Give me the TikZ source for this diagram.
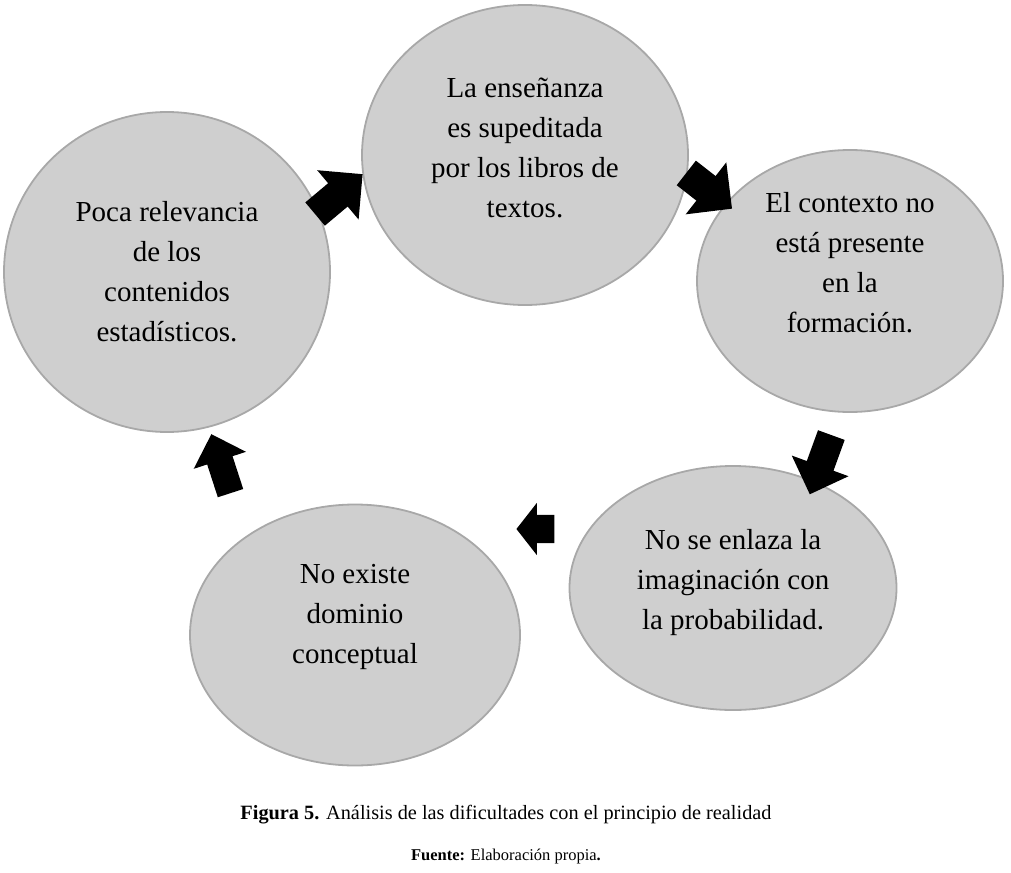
\documentclass[tikz,border=0pt]{standalone}
\usepackage{fontspec}
\setmainfont{Liberation Serif}
\usetikzlibrary{shapes.geometric,shapes.arrows}
\definecolor{cellfill}{RGB}{207,207,207}
\definecolor{celldraw}{RGB}{168,168,168}
\begin{document}
\begin{tikzpicture}[x=1pt,y=-1pt,
		cell/.style={ellipse, fill=cellfill, draw=celldraw, line width=1.8pt, inner sep=0pt},
		txt/.style={align=center, font=\fontsize{29}{40}\selectfont},
		blk/.style={single arrow, fill=black, inner xsep=0pt, inner ysep=15pt, single arrow head indent=0pt}]
			\useasboundingbox (0,0) rectangle (1011,872);
			% ellipses
			\node[cell, minimum width=326pt, minimum height=300pt] (top) at (525,155) {};
			\node[cell, minimum width=306pt, minimum height=262pt] (rgt) at (850,281) {};
			\node[cell, minimum width=327pt, minimum height=244pt] (brt) at (733,588) {};
			\node[cell, minimum width=330pt, minimum height=261pt] (blf) at (355,635) {};
			\node[cell, minimum width=326pt, minimum height=320pt] (lft) at (167,272) {};
			% texts
			\node[txt] (ttop) at ([yshift=7pt]top.center) {La enseñanza\\es supeditada\\por los libros de\\textos.};
			\node[txt] (trgt) at ([yshift=18pt]rgt.center) {El contexto no\\está presente\\en la\\formación.};
			\node[txt] (tbrt) at ([yshift=5pt]brt.center) {No se enlaza la\\imaginación con\\la probabilidad.};
			\node[txt] (tblf) at ([yshift=18pt]blf.center) {No existe\\dominio\\conceptual};
			\node[txt] (tlft) at (lft.center) {Poca relevancia\\de los\\contenidos\\estadísticos.};
			% arrows
			\node[blk, minimum height=62pt, minimum width=64pt, single arrow head extend=17pt, rotate=40] (a1) at (333,199) {};
			\node[blk, minimum height=58pt, minimum width=66pt, single arrow head extend=17pt, rotate=-38] (a2) at (703,186) {};
			\node[blk, minimum height=63pt, minimum width=60pt, inner ysep=14pt, single arrow head extend=16pt, rotate=-110] (a3) at (823,458) {};
			\node[blk, minimum height=38pt, minimum width=52pt, inner ysep=14pt, single arrow head extend=12pt, single arrow tip angle=104, rotate=180] (a4) at (541,529) {};
			\node[blk, minimum height=62pt, minimum width=55pt, inner ysep=13pt, single arrow head extend=14pt, rotate=108] (a5) at (223,470) {};
			% caption
			\node[font=\fontsize{20.3}{24}\selectfont] (cap) at (506,815) {\textbf{Figura 5.} Análisis de las dificultades con el principio de realidad};
			\node[font=\fontsize{16.5}{20}\selectfont] (src) at (506,857) {\textbf{Fuente:} Elaboración propia\textbf{.}};
		\end{tikzpicture}
\end{document}
